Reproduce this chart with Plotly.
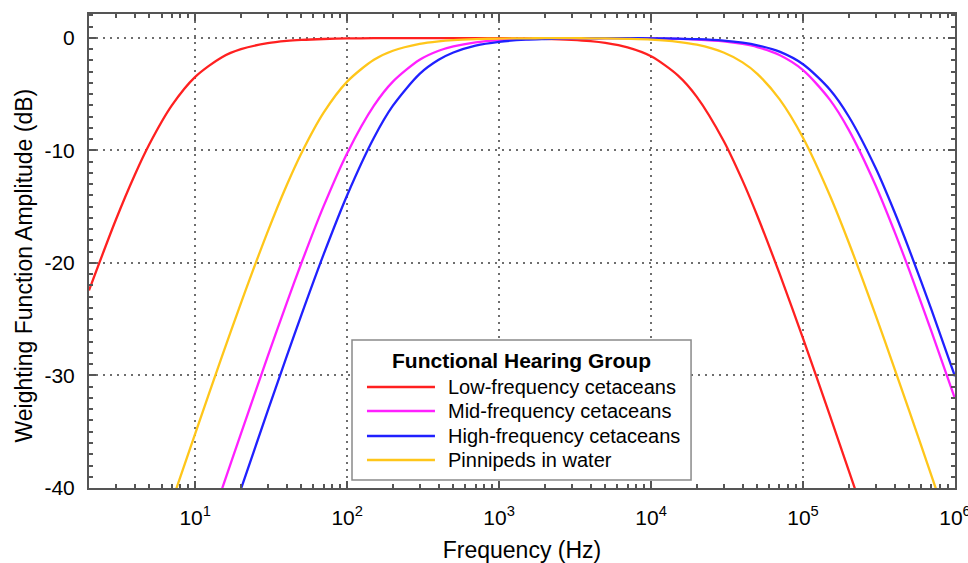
import plotly.graph_objects as go

# Frequencies (Hz)
freq = [2, 3, 4, 5, 7, 10, 15, 20, 30, 40, 50, 70, 100, 150, 200, 300, 400, 500, 700,
        1000, 1500, 2000, 3000, 4000, 5000, 7000, 10000, 15000, 20000, 30000, 40000,
        50000, 70000, 100000, 150000, 200000, 300000, 400000, 500000, 700000, 1000000]

# Weighting function amplitude (dB)
low_freq_cet = [-22.44, -16.18, -12.18, -9.43, -6.02, -3.46, -1.71, -1.00, -0.46, -0.26,
                -0.17, -0.09, -0.04, -0.02, -0.01, -0.01, -0.01, -0.01, -0.01,
                -0.02, -0.04, -0.07, -0.16, -0.28, -0.44, -0.84, -1.63, -3.32, -5.23,
                -9.13, -12.68, -15.80, -20.93, -26.71, -33.53, -38.45, -45.43, -50.41,
                -54.28, -60.12, -66.31]
mid_freq_cet = [-75.0, -67.96, -62.97, -59.09, -53.26, -47.08, -40.09, -35.16, -28.30,
                -23.56, -20.00, -14.95, -10.24, -6.02, -3.88, -1.94, -1.14, -0.75, -0.39,
                -0.19, -0.09, -0.05, -0.03, -0.02, -0.02, -0.02, -0.04, -0.08, -0.14,
                -0.30, -0.53, -0.81, -1.52, -2.86, -5.48, -8.17, -13.09, -17.21, -20.64,
                -26.08, -32.05]
high_freq_cet = [-80.00, -72.96, -67.96, -64.09, -58.25, -52.06, -45.05, -40.09, -33.15,
                 -28.30, -24.61, -19.24, -13.98, -8.87, -6.02, -3.19, -1.94, -1.29, -0.68,
                 -0.34, -0.15, -0.09, -0.04, -0.03, -0.02, -0.02, -0.03, -0.06, -0.11,
                 -0.24, -0.42, -0.65, -1.22, -2.34, -4.58, -6.98, -11.54, -15.47, -18.81,
                 -24.15, -30.07]
pinnipeds_water = [-62.97, -55.93, -50.94, -47.08, -41.27, -35.16, -28.30, -23.56, -17.21,
                   -13.09, -10.24, -6.64, -3.88, -1.94, -1.14, -0.53, -0.30, -0.19, -0.10,
                   -0.05, -0.03, -0.02, -0.02, -0.03, -0.04, -0.08, -0.15, -0.34, -0.60,
                   -1.29, -2.17, -3.19, -5.44, -8.87, -13.98, -18.18, -24.61, -29.38,
                   -33.15, -38.90, -45.05]

series_names = ["Low-frequency cetaceans", "Mid-frequency cetaceans",
                "High-frequency cetaceans", "Pinnipeds in water"]
series_values = [low_freq_cet, mid_freq_cet, high_freq_cet, pinnipeds_water]
series_colors = ["#ff2020", "#ff20ff", "#2020ff", "#ffc61a"]

legend_title = "Functional Hearing Group"
x_title = "Frequency (Hz)"
y_title = "Weighting Function Amplitude (dB)"

x_ticks = [10, 100, 1000, 10000, 100000, 1000000]
x_tick_labels = ["10<sup>1</sup>", "10<sup>2</sup>", "10<sup>3</sup>",
                 "10<sup>4</sup>", "10<sup>5</sup>", "10<sup>6</sup>"]
y_ticks = [0, -10, -20, -30, -40]
y_tick_labels = ["0", "-10", "-20", "-30", "-40"]

FONT = "Liberation Sans, Arial, sans-serif"

fig = go.Figure()
for name, vals, color in zip(series_names, series_values, series_colors):
    fig.add_trace(go.Scatter(x=freq, y=vals, mode="lines", name=name, showlegend=False,
                             line=dict(color=color, width=2.3, shape="spline", smoothing=0.8)))

axis_common = dict(
    showline=True, linecolor="#555555", linewidth=2, mirror="ticks",
    ticks="inside", ticklen=7, tickwidth=1.5, tickcolor="#555555",
    showgrid=True, gridcolor="#6e6e6e", griddash="2px,5px", gridwidth=1.5,
    zeroline=False, automargin=False,
    tickfont=dict(family=FONT, size=21, color="black"),
)

fig.update_xaxes(
    type="log", range=[0.30103, 6.0002], tickvals=x_ticks, ticktext=x_tick_labels,
    minor=dict(ticks="inside", ticklen=4, dtick="D1", tickcolor="#555555", showgrid=False),
    title=dict(text=x_title, font=dict(family=FONT, size=23, color="black"), standoff=17),
    ticklabelstandoff=10, ticklabeloverflow="allow",
    **axis_common,
)
fig.update_yaxes(
    range=[-40, 2.13], tickvals=y_ticks, ticktext=y_tick_labels,
    minor=dict(ticks="inside", ticklen=4, dtick=1, tickcolor="#555555", showgrid=False),
    ticklabelstandoff=8,
    **axis_common,
)

# Legend box (drawn in paper coordinates)
box_x0, box_x1, box_y0, box_y1 = 0.3037, 0.6952, 0.0169, 0.3122
line_x0, line_x1, text_x = 0.3210, 0.3995, 0.4122
row_y = [0.2131, 0.1624, 0.1097, 0.0591]

shapes = [dict(type="rect", xref="paper", yref="paper", x0=box_x0, x1=box_x1,
               y0=box_y0, y1=box_y1, line=dict(color="#8a8a8a", width=1.5),
               fillcolor="white", layer="above")]
annotations = [dict(text="<b>" + legend_title + "</b>", xref="paper", yref="paper",
                    x=(box_x0 + box_x1) / 2, y=0.2700, xanchor="center", yanchor="middle",
                    showarrow=False, font=dict(family=FONT, size=21, color="black"))]
for name, color, ry in zip(series_names, series_colors, row_y):
    shapes.append(dict(type="line", xref="paper", yref="paper", x0=line_x0, x1=line_x1,
                       y0=ry, y1=ry, line=dict(color=color, width=2.3), layer="above"))
    annotations.append(dict(text=name, xref="paper", yref="paper", x=text_x, y=ry,
                            xanchor="left", yanchor="middle", showarrow=False,
                            font=dict(family=FONT, size=20, color="black")))

# y-axis title
annotations.append(dict(text=y_title, xref="paper", yref="paper", x=-0.0751, y=0.4694,
                        xanchor="center", yanchor="middle", textangle=-90, showarrow=False,
                        font=dict(family=FONT, size=23, color="black")))

fig.update_layout(
    width=968, height=563,
    margin=dict(l=89, r=13, t=14, b=75),
    paper_bgcolor="white", plot_bgcolor="white",
    showlegend=False,
    shapes=shapes, annotations=annotations,
)

fig.write_html("out.html", config={"displayModeBar": False},
               post_script="document.body.style.margin='0';document.body.style.overflow='hidden';")
